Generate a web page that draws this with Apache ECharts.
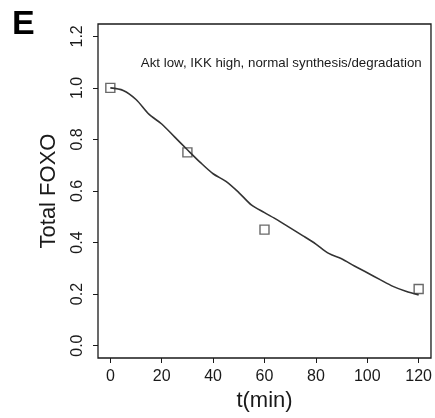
<!DOCTYPE html>
<html>
<head>
<meta charset="utf-8">
<script src="https://cdn.jsdelivr.net/npm/echarts@6/dist/echarts.min.js"></script>
<style>
html,body{margin:0;padding:0;background:#fff;}
#c{width:435px;height:418px;}
</style>
</head>
<body>
<div id="c"></div>
<script>
// Model curve (t in min, Total FOXO)
const curveT = [0,5,10,15,20,25,30,35,40,45,50,55,60,65,70,75,80,85,90,95,100,105,110,115,120];
const curveV = [1.0,0.99,0.955,0.898,0.86,0.81,0.76,0.711,0.667,0.637,0.594,0.545,0.516,0.488,0.457,0.426,0.394,0.358,0.337,0.309,0.283,0.256,0.23,0.211,0.197];
// Experimental points
const dataT = [0,30,60,120];
const dataV = [1.0,0.75,0.45,0.22];
// Ticks
const xTicks = [0,20,40,60,80,100,120];
const yTicks = [0,0.2,0.4,0.6,0.8,1.0,1.2];
const panelLabel = 'E';
const annotation = 'Akt low, IKK high, normal synthesis/degradation';
const xTitle = 't(min)';
const yTitle = 'Total FOXO';

const FONT = '"Liberation Sans", Arial, Helvetica, sans-serif';
const INK = '#1a1a1a';

const chart = echarts.init(document.getElementById('c'), null, {renderer:'canvas'});
chart.setOption({
  backgroundColor:'#ffffff',
  animation:false,
  grid:{left:98, top:24, width:333, height:334, show:true, borderColor:INK, borderWidth:1.3, backgroundColor:'transparent'},
  xAxis:{
    type:'value', min:-4.8, max:124.8,
    name:xTitle, nameLocation:'middle', nameGap:34,
    nameTextStyle:{fontFamily:FONT, fontSize:22, color:INK, verticalAlign:'middle'},
    axisLine:{show:false, onZero:false},
    splitLine:{show:false},
    axisTick:{show:true, inside:false, length:5, customValues:xTicks, lineStyle:{color:INK, width:1}},
    axisLabel:{customValues:xTicks, margin:11, fontFamily:FONT, fontSize:16, color:INK, formatter:v=>String(v)}
  },
  yAxis:{
    type:'value', min:-0.048, max:1.248,
    name:yTitle, nameLocation:'middle', nameGap:49, nameRotate:90,
    nameTextStyle:{fontFamily:FONT, fontSize:22, color:INK, verticalAlign:'middle'},
    axisLine:{show:false, onZero:false},
    splitLine:{show:false},
    axisTick:{show:true, inside:false, length:5, customValues:yTicks, lineStyle:{color:INK, width:1}},
    axisLabel:{customValues:yTicks, rotate:90, margin:12, fontFamily:FONT, fontSize:16, color:INK, formatter:v=>v.toFixed(1)}
  },
  graphic:[
    {type:'text', left:12, top:8, style:{text:panelLabel, font:'bold 34px '+FONT, fill:'#000'}},
    {type:'text', x:421.7, y:63, style:{text:annotation, font:'13.3px '+FONT, fill:INK, align:'right', verticalAlign:'middle'}}
  ],
  series:[
    {type:'line', data:curveT.map((t,i)=>[t,curveV[i]]), showSymbol:false, symbol:'none', smooth:0.3,
     lineStyle:{color:'#333', width:1.6}, silent:true},
    {type:'scatter', data:dataT.map((t,i)=>[t,dataV[i]]), symbol:'rect', symbolSize:9,
     itemStyle:{color:'rgba(255,255,255,0)', borderColor:'#444', borderWidth:1.4}, silent:true}
  ]
});
</script>
</body>
</html>
